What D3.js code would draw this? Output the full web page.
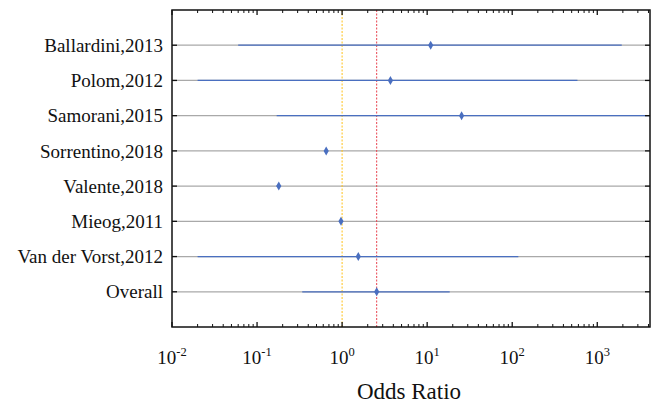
<!DOCTYPE html>
<html>
<head>
<meta charset="utf-8">
<title>Forest plot</title>
<script src="https://d3js.org/d3.v7.min.js"></script>
<style>
  body { margin: 0; background: #fff; }
  text { font-family: "Liberation Serif", "Times New Roman", serif; fill: #111; }
</style>
</head>
<body>
<svg width="651" height="404"></svg>
<script>
// study names, top to bottom
var studies = ["Ballardini,2013", "Polom,2012", "Samorani,2015", "Sorrentino,2018",
               "Valente,2018", "Mieog,2011", "Van der Vorst,2012", "Overall"];
// odds ratio and 95% CI
var oddsRatio = [11, 3.7, 25.4, 0.65, 0.18, 0.97, 1.55, 2.55];
var ciLow     = [0.06, 0.02, 0.17, 0.62, 0.17, 0.95, 0.02, 0.34];
var ciHigh    = [1940, 585, 20000, 0.68, 0.19, 0.99, 118, 18.4];
var tickExp   = [-2, -1, 0, 1, 2, 3];

var svg = d3.select("svg");
var margin = {left: 172, right: 1, top: 10, bottom: 77};
var width = 651 - margin.left - margin.right,
    height = 404 - margin.top - margin.bottom;

var x = d3.scaleLog().domain([0.01, Math.pow(10, 3.62)]).range([0, width]);
var y = d3.scaleLinear().domain([0, studies.length + 1]).range([0, height]);

var g = svg.append("g").attr("transform", "translate(" + margin.left + "," + margin.top + ")");

svg.append("defs").append("clipPath").attr("id", "clip")
  .append("rect").attr("width", width).attr("height", height);

var plot = g.append("g").attr("clip-path", "url(#clip)");

// grey background lines
plot.selectAll(".grid").data(studies).enter().append("line")
  .attr("x1", 0).attr("x2", width)
  .attr("y1", function(d, i) { return y(i + 1); })
  .attr("y2", function(d, i) { return y(i + 1); })
  .attr("stroke", "#a9a9a9").attr("stroke-width", 1.2);

// reference lines
plot.append("line")
  .attr("x1", x(1)).attr("x2", x(1)).attr("y1", 0).attr("y2", height)
  .attr("stroke", "#ffc21a").attr("stroke-width", 1).attr("stroke-dasharray", "2,1.5");
plot.append("line")
  .attr("x1", x(oddsRatio[7])).attr("x2", x(oddsRatio[7])).attr("y1", 0).attr("y2", height)
  .attr("stroke", "#e8434f").attr("stroke-width", 1).attr("stroke-dasharray", "2,1.5");

// CI lines
plot.selectAll(".ci").data(studies).enter().append("line")
  .attr("x1", function(d, i) { return x(ciLow[i]); })
  .attr("x2", function(d, i) { return x(ciHigh[i]); })
  .attr("y1", function(d, i) { return y(i + 1); })
  .attr("y2", function(d, i) { return y(i + 1); })
  .attr("stroke", "#4a6fc0").attr("stroke-width", 1.2);

// diamond markers
plot.selectAll(".pt").data(studies).enter().append("path")
  .attr("transform", function(d, i) { return "translate(" + x(oddsRatio[i]) + "," + y(i + 1) + ")"; })
  .attr("d", "M0,-4.5L2.6,0L0,4.5L-2.6,0Z")
  .attr("fill", "#4a6fc0");

// frame
g.append("rect").attr("width", width).attr("height", height)
  .attr("fill", "none").attr("stroke", "#111").attr("stroke-width", 1.5);

// y ticks both sides, inward
studies.forEach(function(d, i) {
  var yy = y(i + 1);
  g.append("line").attr("x1", 0).attr("x2", 5).attr("y1", yy).attr("y2", yy).attr("stroke", "#111").attr("stroke-width", 1.3);
  g.append("line").attr("x1", width - 5).attr("x2", width).attr("y1", yy).attr("y2", yy).attr("stroke", "#111").attr("stroke-width", 1.3);
  g.append("text").attr("x", -9).attr("y", yy).attr("dy", "0.35em")
    .attr("text-anchor", "end").attr("font-size", 19).text(d);
});

// x ticks, major and minor, top and bottom, inward
var minor = [];
for (var e = -2; e <= 3; e++) {
  for (var m = 2; m <= 9; m++) {
    var v = m * Math.pow(10, e);
    if (v <= x.domain()[1]) minor.push(v);
  }
}
function xTicks(vals, len, w) {
  vals.forEach(function(v) {
    var xx = x(v);
    g.append("line").attr("x1", xx).attr("x2", xx).attr("y1", height).attr("y2", height - len).attr("stroke", "#111").attr("stroke-width", w);
    g.append("line").attr("x1", xx).attr("x2", xx).attr("y1", 0).attr("y2", len).attr("stroke", "#111").attr("stroke-width", w);
  });
}
xTicks(tickExp.map(function(e) { return Math.pow(10, e); }), 5, 1.3);
xTicks(minor, 3, 1);

// x tick labels with superscript exponents
tickExp.forEach(function(e) {
  var t = g.append("text").attr("x", x(Math.pow(10, e))).attr("y", height + 37)
    .attr("text-anchor", "middle").attr("font-size", 19);
  t.append("tspan").text("10");
  t.append("tspan").attr("dy", -8).attr("font-size", 12.5).text(e);
});

// x axis title
g.append("text").attr("x", width / 2 - 2).attr("y", height + 72)
  .attr("text-anchor", "middle").attr("font-size", 23).text("Odds Ratio");
</script>
</body>
</html>
